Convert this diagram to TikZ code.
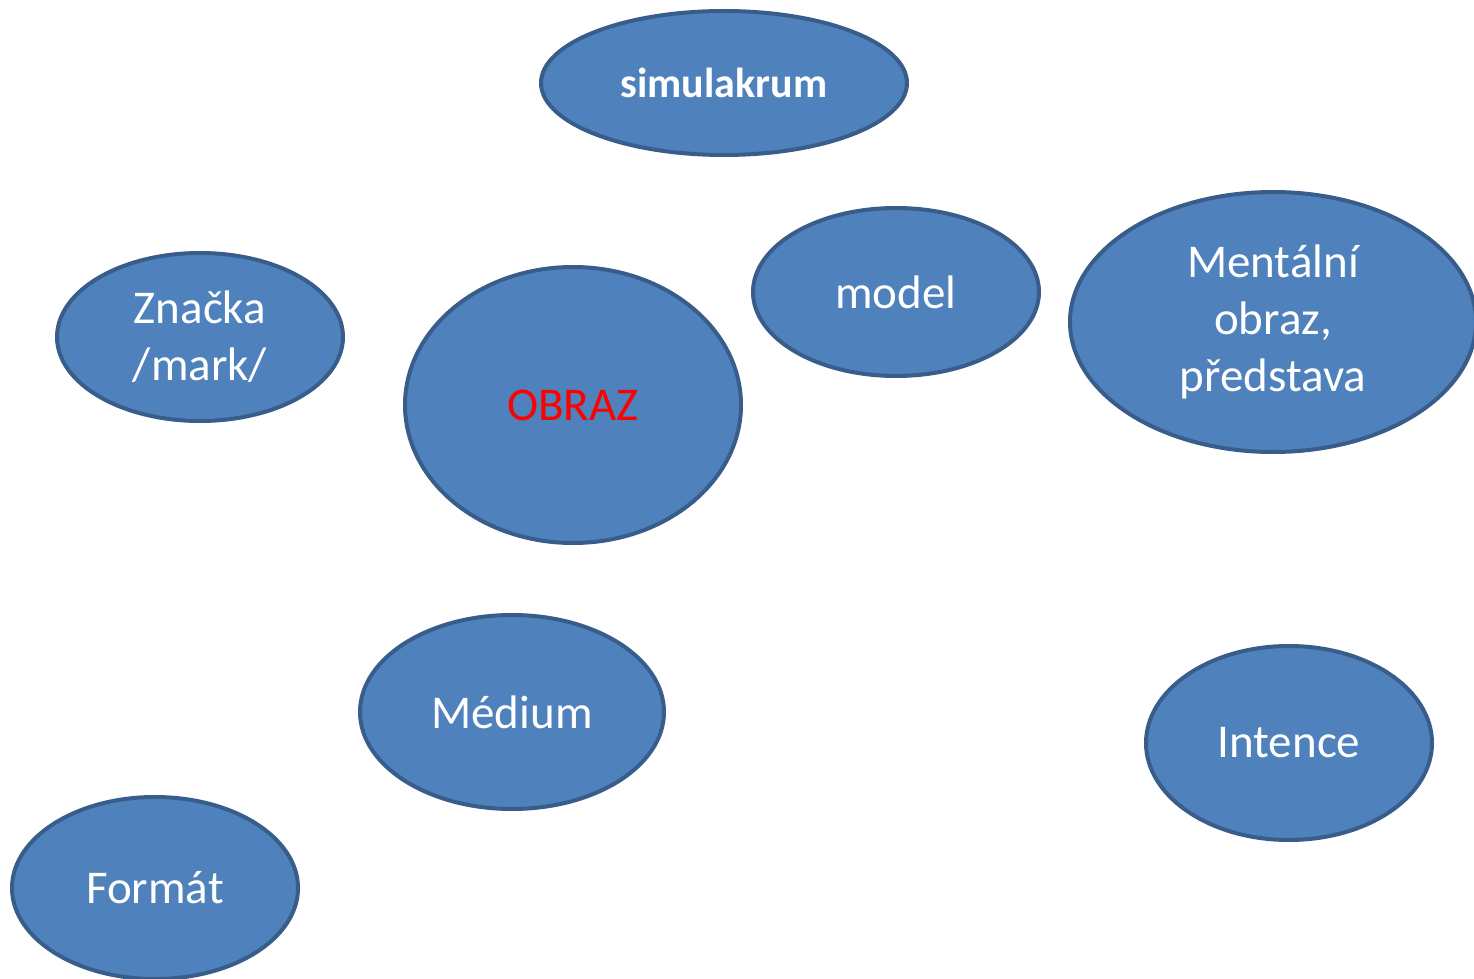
\documentclass[tikz,border=0pt]{standalone}
\usepackage{fontspec}
\setmainfont{Carlito}
\usetikzlibrary{shapes.geometric}
\definecolor{blob}{HTML}{4F81BD}
\definecolor{blobline}{HTML}{385D8A}
\definecolor{obrazred}{HTML}{FF0000}
\begin{document}
\begin{tikzpicture}[x=0.5pt,y=-0.5pt,
	bubble/.style={ellipse,draw=blobline,fill=blob,line width=2pt,text=white,
		align=center,inner sep=0pt,font=\fontsize{23.5}{28.5}\selectfont}]
	\useasboundingbox (0,0) rectangle (1474,979);
	\node[bubble,minimum width=183pt,minimum height=72pt,font=\fontsize{21}{25}\selectfont\bfseries] (sim) at (724,83) {simulakrum};
	\node[bubble,minimum width=143pt,minimum height=84pt] (model) at (896,292) {model};
	\node[bubble,minimum width=203pt,minimum height=130pt] (mental) at (1273,322) {Mentální\\obraz,\\představa};
	\node[bubble,minimum width=143pt,minimum height=84pt] (znacka) at (200,337) {Značka\\/mark/};
	\node[bubble,minimum width=168pt,minimum height=138pt,text=obrazred] (obraz) at (573,405) {OBRAZ};
	\node[bubble,minimum width=152pt,minimum height=97pt] (medium) at (512,712) {Médium};
	\node[bubble,minimum width=143pt,minimum height=97pt] (intence) at (1289,743) {Intence};
	\node[bubble,minimum width=143pt,minimum height=91pt] (format) at (155,888) {Formát};
\end{tikzpicture}
\end{document}
